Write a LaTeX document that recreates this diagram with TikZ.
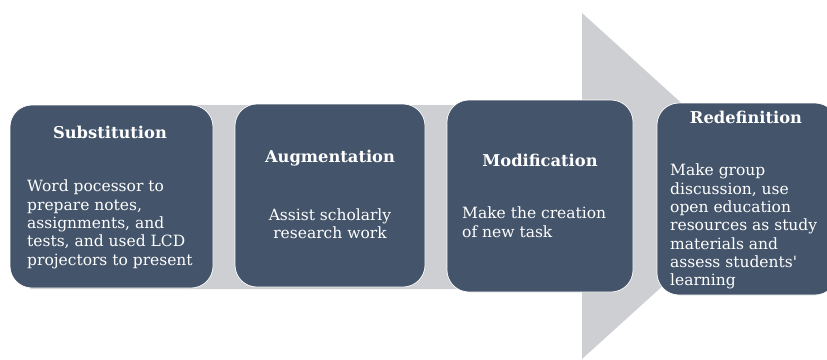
\documentclass[tikz,border=0pt]{standalone}
\usepackage{fontspec}
\setmainfont{DejaVu Serif}
\definecolor{boxfill}{HTML}{44546A}
\definecolor{arrowgrey}{RGB}{206,207,211}
\tikzset{
  stagebox/.style={draw=white, line width=0.7pt, fill=boxfill, rounded corners=22pt,
    inner sep=0pt, rectangle},
  titletext/.style={text=white, font=\fontsize{16.3}{18.5}\selectfont\bfseries, inner sep=0pt},
  bodytext/.style={text=white, font=\fontsize{15.5}{18.3}\selectfont, inner sep=0pt, align=left},
}
\begin{document}
\begin{tikzpicture}[x=1pt,y=-1pt]
\useasboundingbox (0,0) rectangle (827,359);
% big arrow
\fill[arrowgrey] (30,105) -- (582,105) -- (582,13) -- (773,186) -- (582,359) -- (582,289) -- (30,289) -- cycle;
% boxes
\node[stagebox, minimum width=203pt, minimum height=183pt] (b1) at (111.5,196.5) {};
\node[stagebox, minimum width=190pt, minimum height=183pt] (b2) at (330,195.5) {};
\node[stagebox, minimum width=186pt, minimum height=192pt] (b3) at (540,196) {};
\node[stagebox, minimum width=180pt, minimum height=192pt] (b4) at (747,199) {};
% titles
\node[titletext] (t1) at (110,132) {Substitution};
\node[titletext] (t2) at (330,158) {Augmentation};
\node[titletext] (t3) at (540,160) {Modification};
\node[titletext] (t4) at (746,117) {Redefinition};
% body texts
\node[bodytext, anchor=north west] (d1) at (27,180) {Word pocessor to\\prepare notes,\\assignments, and\\tests, and used LCD\\projectors to present};
\node[bodytext, align=center, anchor=center] (d2) at (330,224) {Assist scholarly\\research work};
\node[bodytext, anchor=north west] (d3) at (462,207) {Make the creation\\of new task};
\node[bodytext, anchor=north west] (d4) at (670,164) {Make group\\discussion, use\\open education\\resources as study\\materials and\\assess students\textquotesingle\\learning};
\end{tikzpicture}
\end{document}
